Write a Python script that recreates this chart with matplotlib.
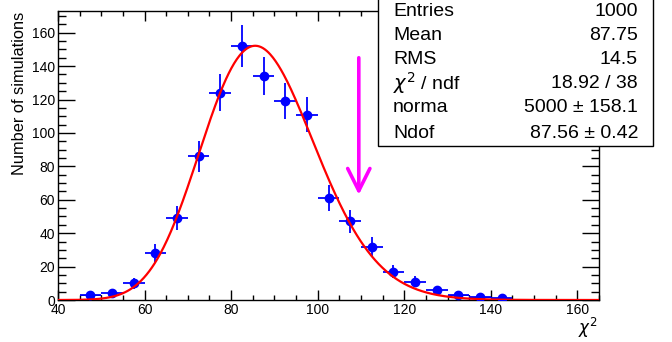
import math
import numpy as np
import matplotlib
matplotlib.use("Agg")
import matplotlib.pyplot as plt
from matplotlib.ticker import MultipleLocator

plt.rcParams['font.family'] = ['Liberation Sans', 'DejaVu Sans']

# histogram: 25 bins of width 5 between 40 and 165
bin_edges = np.arange(40, 170, 5)
counts = [0, 3, 4, 10, 28, 49, 86, 124, 152, 134, 119, 111, 61, 47, 32,
          17, 11, 6, 3, 2, 1, 0, 0, 0, 0]

# fit parameters from the stats box
norma = 5000.0
ndof = 87.56
arrow_x = 109.5

stats_labels = ["Entries", "Mean", "RMS", r"$\chi^{2}$ / ndf", "norma", "Ndof"]
stats_values = ["1000", "87.75", "14.5", "18.92 / 38", "5000 ± 158.1", "87.56 ± 0.42"]


def chi2_fit(x, k, n):
    logf = (k / 2 - 1) * np.log(x) - x / 2 - (k / 2) * math.log(2) - math.lgamma(k / 2)
    return n * np.exp(logf)


W, H = 672, 342
fig = plt.figure(figsize=(W / 100, H / 100), dpi=100)
ax = fig.add_axes([58 / W, 1 - 300 / H, (599 - 58) / W, (300 - 11) / H])

centers = bin_edges[:-1] + 2.5
counts = np.array(counts, dtype=float)
filled = counts > 0

# small bins show the histogram box outline (error bar shorter than marker)
for lo, c in zip(bin_edges[:-1], counts):
    if 0 < c <= 3:
        ax.add_patch(plt.Rectangle((lo, 0), 5, c, fill=False, edgecolor='#000060',
                                   lw=0.7, zorder=1))

ax.errorbar(centers[filled], counts[filled], yerr=np.sqrt(counts[filled]), xerr=2.5,
            fmt='o', color='#0000ff', ms=6, elinewidth=1.3, capsize=0, zorder=3)

xs = np.linspace(40, 165, 600)
ax.plot(xs, chi2_fit(xs, ndof, norma), color='#ff0000', lw=1.6, zorder=4)

# magenta arrow marking the cut
ax.annotate("", xy=(arrow_x, 63), xytext=(arrow_x, 145),
            arrowprops=dict(arrowstyle='->,head_length=1.6,head_width=0.8',
                            color='#ff00ff', lw=2.6, shrinkA=0, shrinkB=0))

ax.set_xlim(40, 165)
ax.set_ylim(0, 173)
ax.xaxis.set_major_locator(MultipleLocator(20))
ax.xaxis.set_minor_locator(MultipleLocator(5))
ax.yaxis.set_major_locator(MultipleLocator(20))
ax.yaxis.set_minor_locator(MultipleLocator(5))
ax.tick_params(axis='both', which='both', direction='in', top=True, right=True,
               labelsize=10, width=1, colors='black')
ax.tick_params(axis='x', which='major', length=7.2, pad=2)
ax.tick_params(axis='x', which='minor', length=3.6)
ax.tick_params(axis='y', which='major', length=12, pad=2)
ax.tick_params(axis='y', which='minor', length=5.8)
for s in ax.spines.values():
    s.set_linewidth(1)

fig.text(20 / W, 1 - 12 / H, "Number of simulations", rotation=90,
         ha='center', va='top', fontsize=11.8)
fig.text(598 / W, 1 - 328 / H, r"$\chi^{2}$", ha='right', va='center', fontsize=12)

# stats box
box = plt.Rectangle((378 / W, 1 - 146 / H), (653 - 378) / W, 160 / H,
                    transform=fig.transFigure, facecolor='white', edgecolor='black',
                    lw=1, zorder=10)
fig.patches.append(box)
row_y = [12, 36, 59, 83, 108, 134]
for lab, val, yy in zip(stats_labels, stats_values, row_y):
    fig.text(393 / W, 1 - yy / H, lab, ha='left', va='center', fontsize=14, zorder=11)
    fig.text(638 / W, 1 - yy / H, val, ha='right', va='center', fontsize=14, zorder=11)

fig.savefig("out.png", dpi=100)
